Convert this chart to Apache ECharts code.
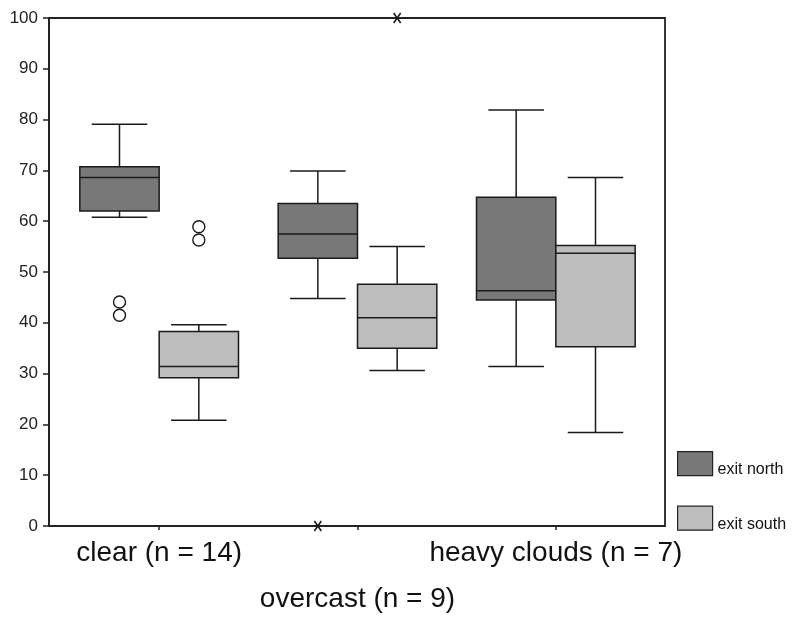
<!DOCTYPE html>
<html><head><meta charset="utf-8">
<script src="https://cdn.jsdelivr.net/npm/echarts@6/dist/echarts.min.js"></script>
<style>html,body{margin:0;padding:0;background:#fff}#c{width:795px;height:617px}</style>
</head><body><div id="c"></div>
<script>
const categories = ['clear (n = 14)', 'overcast (n = 9)', 'heavy clouds (n = 7)'];
const seriesNames = ['exit north', 'exit south'];
// [min, q1, median, q3, max]
const northStats = [[60.8, 62.0, 68.6, 70.7, 79.1], [44.8, 52.7, 57.5, 63.5, 69.9], [31.4, 44.5, 46.3, 64.7, 81.9]];
const southStats = [[20.8, 29.2, 31.4, 38.3, 39.6], [30.6, 35.0, 41.0, 47.6, 55.0], [18.4, 35.3, 53.7, 55.2, 68.6]];
// outliers [categoryIndex, value]
const northOutliers = [[0, 44.1], [0, 41.5]];
const southOutliers = [[0, 58.9], [0, 56.3]];
// extremes [categoryIndex, value]
const northExtremes = [[1, 0]];
const southExtremes = [[1, 100]];
const yTicks = [0, 10, 20, 30, 40, 50, 60, 70, 80, 90, 100];

const STROKE = '#1a1a1a';
const northColor = '#787878';
const southColor = '#bdbdbd';

function boxRenderer(side, color) {
  return function (params, api) {
    const cat = api.value(0);
    const band = api.size([1, 0])[0];
    const half = band * 0.2;
    const cap = band * 0.14;
    const cx = api.coord([cat, 0])[0] + side * half;
    const y = i => api.coord([cat, api.value(i)])[1];
    const yMin = y(1), yQ1 = y(2), yMed = y(3), yQ3 = y(4), yMax = y(5);
    const ls = { stroke: STROKE, lineWidth: 1.5 };
    return {
      type: 'group',
      children: [
        { type: 'line', shape: { x1: cx, y1: yMax, x2: cx, y2: yQ3 }, style: ls },
        { type: 'line', shape: { x1: cx, y1: yMin, x2: cx, y2: yQ1 }, style: ls },
        { type: 'line', shape: { x1: cx - cap, y1: yMax, x2: cx + cap, y2: yMax }, style: ls },
        { type: 'line', shape: { x1: cx - cap, y1: yMin, x2: cx + cap, y2: yMin }, style: ls },
        { type: 'rect', shape: { x: cx - half, y: yQ3, width: half * 2, height: yQ1 - yQ3 }, style: { fill: color, stroke: STROKE, lineWidth: 1.5 } },
        { type: 'line', shape: { x1: cx - half, y1: yMed, x2: cx + half, y2: yMed }, style: ls }
      ]
    };
  };
}
function outlierRenderer(side) {
  return function (params, api) {
    const cat = api.value(0);
    const band = api.size([1, 0])[0];
    const p = api.coord([cat, api.value(1)]);
    return { type: 'circle', shape: { cx: p[0] + side * band * 0.2, cy: p[1], r: 6 }, style: { fill: 'none', stroke: STROKE, lineWidth: 1.4 } };
  };
}
function extremeRenderer(side) {
  return function (params, api) {
    const cat = api.value(0);
    const band = api.size([1, 0])[0];
    const p = api.coord([cat, api.value(1)]);
    const x = p[0] + side * band * 0.2, yy = p[1];
    const ls = { stroke: STROKE, lineWidth: 1.6 };
    return { type: 'group', children: [
      { type: 'line', shape: { x1: x - 3.5, y1: yy - 5, x2: x + 3.5, y2: yy + 5 }, style: ls },
      { type: 'line', shape: { x1: x + 3.5, y1: yy - 5, x2: x - 3.5, y2: yy + 5 }, style: ls }
    ]};
  };
}

const chart = echarts.init(document.getElementById('c'));
chart.setOption({
  animation: false,
  backgroundColor: '#fff',
  textStyle: { fontFamily: 'Liberation Sans, Arial, sans-serif' },
  grid: [
    { left: 60, right: 140, top: 18, bottom: 91 },
    { left: 49, right: 130, top: 18, bottom: 91, show: true, borderColor: '#222', borderWidth: 1.8, backgroundColor: 'transparent' }
  ],
  legend: {
    data: seriesNames,
    orient: 'vertical', left: 677, top: 451,
    itemWidth: 35, itemHeight: 24, itemGap: 28, padding: 0,
    icon: 'rect',
    itemStyle: { borderColor: '#222', borderWidth: 1.2 },
    formatter: n => '{t|' + n + '}',
    textStyle: { fontSize: 16, color: '#111', fontFamily: 'Liberation Sans, Arial, sans-serif',
      rich: { t: { fontSize: 16, color: '#111', padding: [12, 0, 0, 0] } } }
  },
  xAxis: [
    {
      type: 'category', gridIndex: 0, data: categories,
      axisLine: { show: false },
      axisTick: { show: true, alignWithLabel: true, length: 4, lineStyle: { color: '#222', width: 1.5 } },
      axisLabel: {
        margin: 13, color: '#111', fontSize: 28, interval: 0,
        formatter: (v, i) => i === 1 ? '{b|' + v + '}' : '{a|' + v + '}',
        rich: { a: { fontSize: 28, color: '#111' }, b: { fontSize: 28, color: '#111', padding: [46, 0, 0, 0] } }
      },
      splitLine: { show: false }
    },
    { type: 'value', gridIndex: 1, show: false }
  ],
  yAxis: [
    {
      type: 'value', gridIndex: 0, min: 0, max: 100, interval: 10, offset: 11,
      axisLine: { show: true, lineStyle: { color: '#222', width: 1.8 } },
      axisTick: { show: true, length: 6, lineStyle: { color: '#222', width: 1.5 } },
      axisLabel: { color: '#222', fontSize: 17, margin: 11, formatter: v => yTicks.includes(v) ? String(v) : '' },
      splitLine: { show: false }
    },
    { type: 'value', gridIndex: 1, show: false }
  ],
  series: [
    { name: seriesNames[0], type: 'custom', xAxisIndex: 0, yAxisIndex: 0, renderItem: boxRenderer(-1, northColor),
      itemStyle: { color: northColor }, encode: { x: 0, y: [1, 2, 3, 4, 5] },
      data: northStats.map((s, i) => [i].concat(s)) },
    { name: seriesNames[1], type: 'custom', xAxisIndex: 0, yAxisIndex: 0, renderItem: boxRenderer(1, southColor),
      itemStyle: { color: southColor }, encode: { x: 0, y: [1, 2, 3, 4, 5] },
      data: southStats.map((s, i) => [i].concat(s)) },
    { name: 'north outliers', type: 'custom', renderItem: outlierRenderer(-1), encode: { x: 0, y: 1 }, data: northOutliers, z: 5 },
    { name: 'south outliers', type: 'custom', renderItem: outlierRenderer(1), encode: { x: 0, y: 1 }, data: southOutliers, z: 5 },
    { name: 'north extremes', type: 'custom', renderItem: extremeRenderer(-1), encode: { x: 0, y: 1 }, data: northExtremes, clip: false, z: 10 },
    { name: 'south extremes', type: 'custom', renderItem: extremeRenderer(1), encode: { x: 0, y: 1 }, data: southExtremes, clip: false, z: 10 }
  ]
});
</script></body></html>
